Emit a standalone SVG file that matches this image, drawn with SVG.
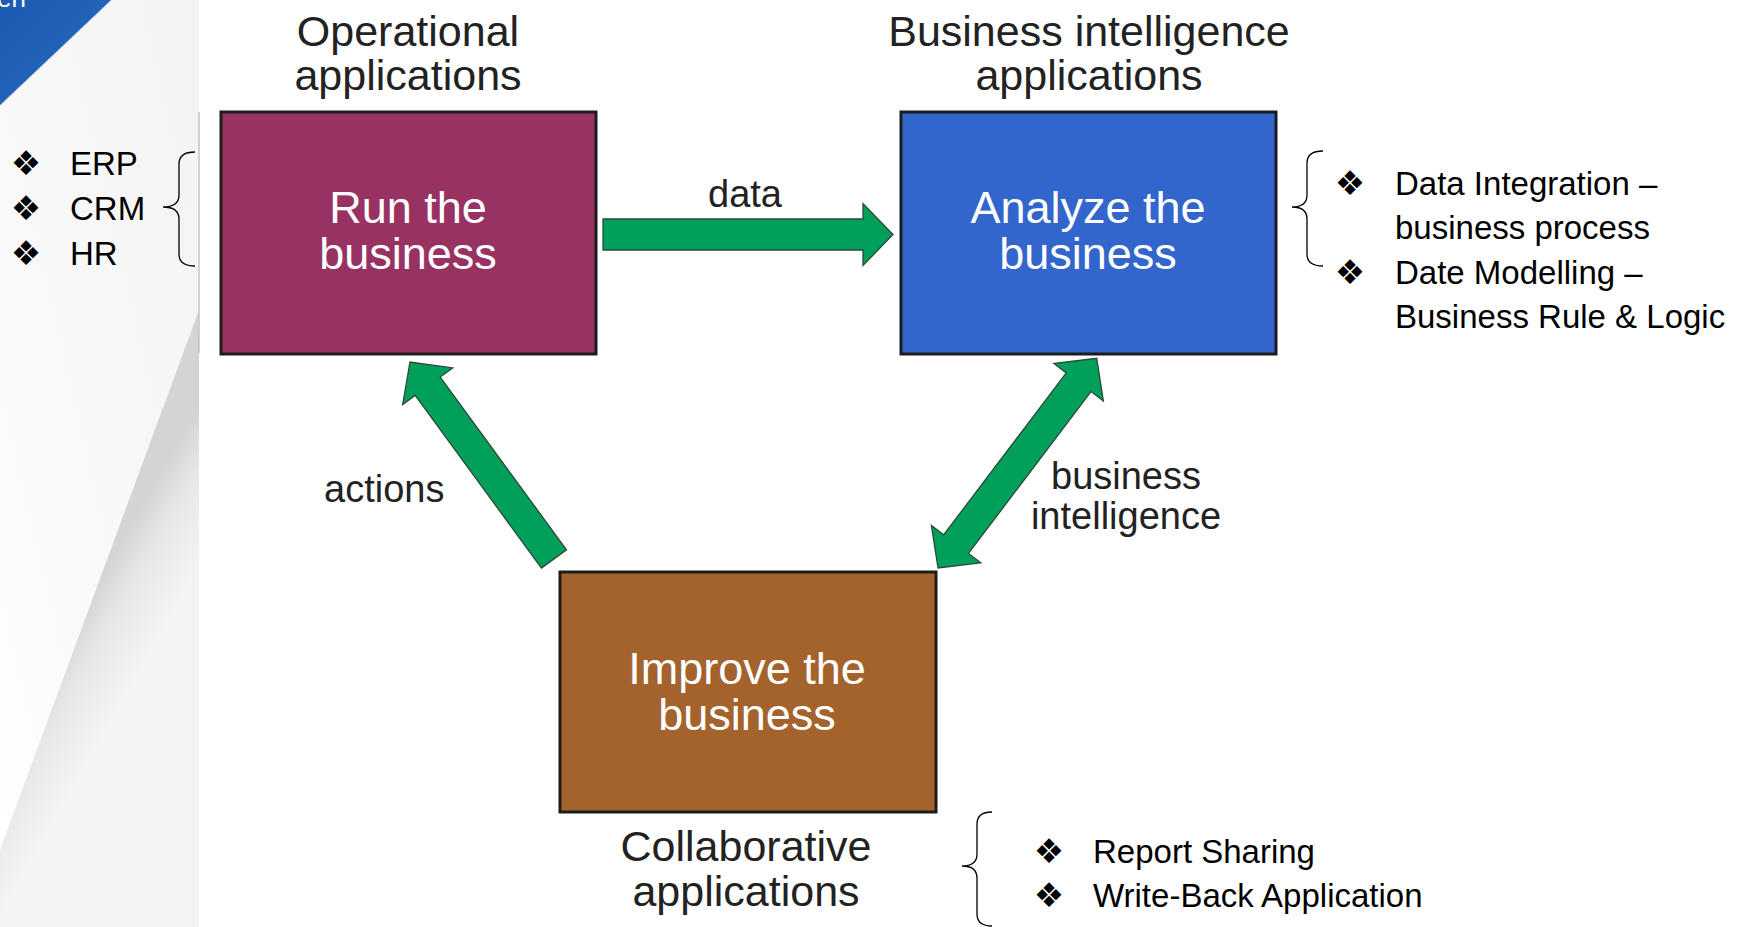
<svg xmlns="http://www.w3.org/2000/svg" width="1746" height="927" viewBox="0 0 1746 927">
  <defs>
    <linearGradient id="blueCorner" x1="0" y1="0" x2="1" y2="1">
      <stop offset="0" stop-color="#1a5ab0"/>
      <stop offset="1" stop-color="#2a6cc2"/>
    </linearGradient>
    <linearGradient id="paperTop" x1="1" y1="0" x2="0" y2="1">
      <stop offset="0" stop-color="#f3f3f3"/>
      <stop offset="0.7" stop-color="#fafafa"/>
      <stop offset="1" stop-color="#ffffff"/>
    </linearGradient>
    <linearGradient id="paperCurl" gradientUnits="userSpaceOnUse" x1="100" y1="580" x2="170" y2="620">
      <stop offset="0" stop-color="#d4d4d4"/>
      <stop offset="0.35" stop-color="#e6e6e6"/>
      <stop offset="1" stop-color="#f4f4f4"/>
    </linearGradient>
    <style>
      .title { font-family: "Liberation Sans", Arial, sans-serif; font-size: 43px; fill: #222; text-anchor: middle; }
      .boxtext { font-family: "Liberation Sans", Arial, sans-serif; font-size: 45px; fill: #ffffff; text-anchor: middle; }
      .label { font-family: "Liberation Sans", Arial, sans-serif; font-size: 38px; fill: #222; }
      .list { font-family: "Liberation Sans", Arial, sans-serif; font-size: 33px; fill: #000; }
      .bullet { font-family: "DejaVu Sans", sans-serif; font-size: 34px; fill: #000; text-anchor: middle; }
      .box { stroke: #1c1c1c; stroke-width: 3; }
      .arrow { fill: #00a05a; stroke: #2a4a38; stroke-width: 1.3; stroke-linejoin: miter; }
      .brace { fill: none; stroke: #000; stroke-width: 1.3; }
    </style>
  </defs>

  <!-- slide background -->
  <rect x="0" y="0" width="1746" height="927" fill="#ffffff"/>
  <g id="slide-background">
    <polygon points="0,0 199,0 199,310 0,850" fill="url(#paperTop)"/>
    <polygon points="199,310 199,927 0,927 0,850" fill="url(#paperCurl)"/>
    <line x1="199" y1="112" x2="199" y2="353" stroke="#c4c4c4" stroke-width="1.5"/>
    <polygon points="0,0 112,0 0,106" fill="url(#blueCorner)"/>
    <line x1="112" y1="0" x2="0" y2="106" stroke="#ffffff" stroke-width="1.5" opacity="0.7"/>
    <text x="26" y="7" font-family="Liberation Sans, Arial, sans-serif" font-size="26" fill="#ffffff" text-anchor="end">en</text>
  </g>

  <!-- connectors -->
  <g id="connectors">
    <g id="arrow-data">
      <polygon class="arrow" transform="translate(603,234.5)" points="0,-15.5 260,-15.5 260,-31 290,0 260,31 260,15.5 0,15.5"/>
      <text class="label" x="745" y="207" text-anchor="middle">data</text>
    </g>
    <g id="arrow-actions">
      <polygon class="arrow" transform="translate(554,559) rotate(-126.17)" points="0,-15.5 214,-15.5 214,-31 244,0 214,31 214,15.5 0,15.5"/>
      <text class="label" x="324" y="502">actions</text>
    </g>
    <g id="arrow-bi">
      <polygon class="arrow" transform="translate(938,568) rotate(-52.87)" points="0,0 30,-31 30,-15.5 233,-15.5 233,-31 263,0 233,31 233,15.5 30,15.5 30,31"/>
      <text class="label" x="1126" y="489" text-anchor="middle">business</text>
      <text class="label" x="1126" y="529" text-anchor="middle">intelligence</text>
    </g>
  </g>

  <!-- nodes -->
  <g id="node-run">
    <text class="title" x="408" y="46">Operational</text>
    <text class="title" x="408" y="90">applications</text>
    <rect class="box" x="221" y="112" width="375" height="242" fill="#983262"/>
    <text class="boxtext" x="408" y="223">Run the</text>
    <text class="boxtext" x="408" y="269">business</text>
  </g>

  <g id="node-analyze">
    <text class="title" x="1089" y="46">Business intelligence</text>
    <text class="title" x="1089" y="90">applications</text>
    <rect class="box" x="901" y="112" width="375" height="242" fill="#3366cc"/>
    <text class="boxtext" x="1088" y="223">Analyze the</text>
    <text class="boxtext" x="1088" y="269">business</text>
  </g>

  <g id="node-improve">
    <rect class="box" x="560" y="572" width="376" height="240" fill="#a4622d"/>
    <text class="boxtext" x="747" y="684">Improve the</text>
    <text class="boxtext" x="747" y="730">business</text>
    <text class="title" x="746" y="861">Collaborative</text>
    <text class="title" x="746" y="906">applications</text>
  </g>

  <!-- side notes -->
  <g id="note-operational">
    <path class="brace" d="M195,152 Q179,152 179,164 L179,195 Q179,207 163,207 Q179,207 179,219 L179,254 Q179,266 195,266"/>
    <text class="bullet" x="26" y="175">❖</text>
    <text class="bullet" x="26" y="220">❖</text>
    <text class="bullet" x="26" y="265">❖</text>
    <text class="list" x="70" y="175">ERP</text>
    <text class="list" x="70" y="220">CRM</text>
    <text class="list" x="70" y="265">HR</text>
  </g>

  <g id="note-bi">
    <path class="brace" d="M1323,151 Q1307,151 1307,163 L1307,195 Q1307,207 1292,207 Q1307,207 1307,219 L1307,254 Q1307,266 1323,266"/>
    <text class="bullet" x="1350" y="195">❖</text>
    <text class="bullet" x="1350" y="284">❖</text>
    <text class="list" x="1395" y="195">Data Integration –</text>
    <text class="list" x="1395" y="239">business process</text>
    <text class="list" x="1395" y="284">Date Modelling –</text>
    <text class="list" x="1395" y="328">Business Rule &amp; Logic</text>
  </g>

  <g id="note-collab">
    <path class="brace" d="M992,812 Q977,812 977,824 L977,854 Q977,866 962,866 Q977,866 977,878 L977,914 Q977,926 992,926"/>
    <text class="bullet" x="1049" y="863">❖</text>
    <text class="bullet" x="1049" y="907">❖</text>
    <text class="list" x="1093" y="863">Report Sharing</text>
    <text class="list" x="1093" y="907">Write-Back Application</text>
  </g>
</svg>
